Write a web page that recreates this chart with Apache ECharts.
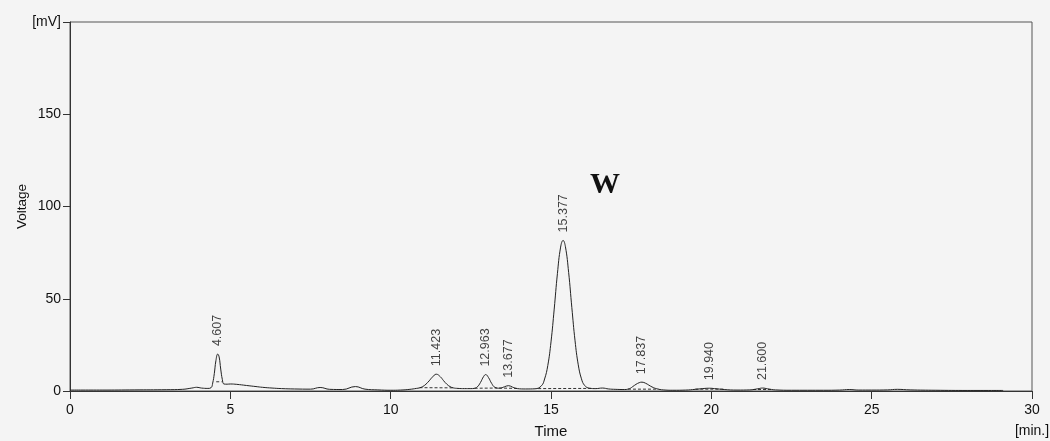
<!DOCTYPE html>
<html><head><meta charset="utf-8">
<script src="https://cdn.jsdelivr.net/npm/echarts@6/dist/echarts.min.js"></script>
<style>html,body{margin:0;padding:0;background:#f4f4f4}#c{width:1050px;height:441px}</style>
</head><body><div id="c"></div>
<script>
// Chromatogram signal (time in min, voltage in mV)
const times = [0,1,2,3,3.5,3.8,3.95,4.1,4.3,4.4,4.45,4.5,4.55,4.607,4.65,4.7,4.75,4.8,4.9,5.0,5.2,5.5,5.8,6.0,6.3,6.6,7.0,7.5,7.8,8.1,8.5,8.9,9.2,9.6,10.0,10.3,10.6,10.8,10.9,11.0,11.1,11.2,11.3,11.423,11.55,11.65,11.75,11.85,11.95,12.1,12.3,12.5,12.6,12.7,12.8,12.9,12.963,13.05,13.15,13.25,13.4,13.55,13.677,13.8,13.95,14.2,14.5,14.7,14.8,14.9,15.0,15.1,15.2,15.3,15.377,15.45,15.55,15.65,15.75,15.85,15.95,16.05,16.2,16.4,16.6,16.8,17.0,17.3,17.45,17.55,17.65,17.75,17.837,17.95,18.05,18.15,18.3,18.5,18.8,19.2,19.5,19.8,19.94,20.1,20.4,20.8,21.2,21.45,21.6,21.75,22.0,22.5,23.0,23.5,24.0,24.3,24.6,25.0,25.5,25.8,26.2,27.0,28.0,29.1];
const volts = [0.5,0.5,0.6,0.7,0.9,1.6,2.0,1.6,1.4,1.8,4.3,9.4,16.4,20.0,18.5,11.9,6.3,3.8,3.7,3.8,3.6,3.0,2.4,2.0,1.6,1.3,1.1,1.0,1.9,0.9,0.8,2.4,1.0,0.6,0.4,0.5,0.9,1.4,1.7,2.4,3.7,5.5,7.5,9.1,7.7,5.6,3.7,2.4,1.7,1.4,1.3,1.3,1.4,2.2,4.6,7.9,8.9,7.3,4.1,2.0,1.5,2.3,2.9,2.1,1.3,1.1,1.2,2.8,6.5,13.8,26.6,44.4,63.6,78,81.6,78.2,64.3,45.2,27.2,14.2,6.6,3.0,1.5,1.3,1.6,1.1,0.9,0.8,1.3,2.4,3.6,4.5,4.8,4.2,3.2,2.2,1.2,0.6,0.4,0.5,0.9,1.4,1.5,1.3,0.8,0.5,0.6,1.2,1.6,1.2,0.6,0.4,0.4,0.4,0.5,0.8,0.5,0.5,0.6,0.9,0.6,0.4,0.3,0.3];

// Peak labels
const peakLabels = ['4.607','11.423','12.963','13.677','15.377','17.837','19.940','21.600'];
const peakTimes = [4.607,11.423,12.963,13.677,15.377,17.837,19.94,21.6];
const peakTops = [20.0,9.1,8.9,2.9,81.6,4.8,1.5,1.6];

// Integration baselines (dashed): [t0, v0, t1, v1]
const baseSegs = [[4.56,5.0,4.73,5.0],[10.9,1.8,11.98,1.7],[12.62,1.5,13.32,1.6],[13.38,1.6,13.95,1.4],[14.6,1.3,16.3,1.4],[17.4,1.0,18.35,1.0],[19.5,1.0,20.4,1.0],[21.3,0.8,21.9,0.8]];

// Axis ticks
const xTicks = [0,5,10,15,20,25,30];
const yTicks = [0,50,100,150,200];

const chart = echarts.init(document.getElementById('c'), null, {renderer:'canvas'});
const FONT = 'Liberation Sans, Arial, sans-serif';
const series = [{
  type:'line', data: times.map((t,i)=>[t,volts[i]]), showSymbol:false, symbol:'none',
  smooth:0.45, lineStyle:{color:'#222',width:1}, z:3, silent:true
}];
baseSegs.forEach(s=>series.push({type:'line',data:[[s[0],s[1]],[s[2],s[3]]],symbol:'none',
  lineStyle:{color:'#333',width:1,type:[3,2]},z:2,silent:true}));
series.push({type:'scatter', data: peakTimes.map((t,i)=>[t,peakTops[i]]), symbolSize:0, silent:true,
  label:{show:true, position:'top', distance:8, rotate:90, align:'left', verticalAlign:'middle',
    formatter:p=>peakLabels[p.dataIndex], fontFamily:FONT, fontSize:12.5, color:'#111'}});

chart.setOption({
  backgroundColor:'#f4f4f4', animation:false,
  grid:{left:70,right:18,top:22,bottom:50,show:true,borderColor:'#555',borderWidth:1,backgroundColor:'transparent',
    containLabel:false, outerBoundsMode:'none'},
  xAxis:{type:'value',min:0,max:30,interval:5,name:'Time',nameLocation:'middle',nameGap:33,nameMoveOverlap:false,
    nameTextStyle:{fontFamily:FONT,fontSize:15,color:'#111'},
    axisLine:{lineStyle:{color:'#333',width:1}},axisTick:{length:8,lineStyle:{color:'#333'}},
    splitLine:{show:false},
    axisLabel:{margin:9,fontFamily:FONT,fontSize:14,color:'#111',lineHeight:21,
      formatter:v=> v===30 ? '30\n[min.]' : String(v)}},
  yAxis:{type:'value',min:0,max:200,interval:50,name:'Voltage',nameLocation:'middle',nameGap:41,nameMoveOverlap:false,
    nameTextStyle:{fontFamily:FONT,fontSize:13.5,color:'#111'},
    axisLine:{show:true,lineStyle:{color:'#333',width:1}},axisTick:{show:true,length:7,lineStyle:{color:'#333'}},
    splitLine:{show:false},
    axisLabel:{margin:9,fontFamily:FONT,fontSize:14,color:'#111',
      formatter:v=> v===200 ? '[mV]' : String(v)}},
  graphic:[{type:'text',left:590,top:170,style:{text:'W',font:'bold 30px "Liberation Serif", "Times New Roman", serif',fill:'#111'}}],
  series
});
</script></body></html>
